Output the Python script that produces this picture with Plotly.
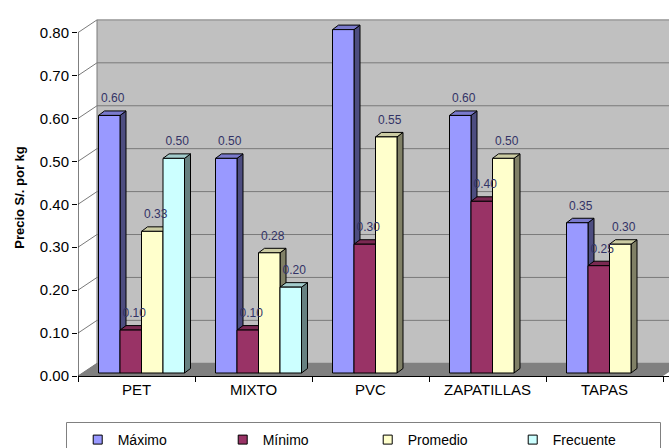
import plotly.graph_objects as go

# ---- data -------------------------------------------------------------
categories = ["PET", "MIXTO", "PVC", "ZAPATILLAS", "TAPAS"]
series_names = ["Máximo", "Mínimo", "Promedio", "Frecuente"]
maximo = [0.60, 0.50, 0.80, 0.60, 0.35]
minimo = [0.10, 0.10, 0.30, 0.40, 0.25]
promedio = [0.33, 0.28, 0.55, 0.50, 0.30]
frecuente = [0.50, 0.20, None, None, None]
y_ticks = [0.0, 0.1, 0.2, 0.3, 0.4, 0.5, 0.6, 0.7, 0.8]

series_values = [maximo, minimo, promedio, frecuente]
front_colors = ["#9999FF", "#993366", "#FFFFCC", "#CCFFFF"]
side_colors = ["#4D4D80", "#4D1A33", "#808066", "#668080"]
top_colors = ["#7A7ACC", "#7A2952", "#CCCCA3", "#A3CCCC"]

FONT = "Arial, Liberation Sans, sans-serif"

# ---- geometry of the oblique 3-D frame (pixels) ------------------------
W, H = 669, 448
L, R, T, B = 78, 669, 19, 376          # plot area in page pixels
PX_CAT = 117.0                          # pixels per category slot
PX_UNIT = 429.25                        # pixels per 1.00 S/.
BAR_SHIFT = (5.0, 3.0)                  # bar plane vs. front plane (right, up)
BACK_SHIFT = (19.0, 12.7)               # back wall vs. front plane (right, up)
BAR_DEPTH = (6.0, 4.5)                  # visible depth of each column
BAR_PX = 21.5                           # column width in pixels

ux, uy = 1 / PX_CAT, 1 / PX_UNIT
bar_w = BAR_PX * ux
ddx, ddy = BAR_DEPTH[0] * ux, BAR_DEPTH[1] * uy

# front plane axes: slot i centred at i, value 0 on the bottom edge
front_x_range = [-0.5, -0.5 + (R - L) * ux]
front_y_range = [0.0, (B - T) * uy]
# bar plane axes: same scales, shifted
bar_x_range = [front_x_range[0] - BAR_SHIFT[0] * ux, front_x_range[1] - BAR_SHIFT[0] * ux]
bar_y_range = [-BAR_SHIFT[1] * uy, front_y_range[1] - BAR_SHIFT[1] * uy]


def front(fx, fy):
    return fx - BAR_SHIFT[0] * ux, fy - BAR_SHIFT[1] * uy


def back(fx, fy):
    return (fx + (BACK_SHIFT[0] - BAR_SHIFT[0]) * ux,
            fy + (BACK_SHIFT[1] - BAR_SHIFT[1]) * uy)


def path(points):
    return "M " + " L ".join(f"{x:.5f},{y:.5f}" for x, y in points) + " Z"


def px_x(p):
    return (p - L) / (R - L)


def px_y(p):
    return (B - p) / (B - T)


x_lo, x_hi = -0.5, len(categories) - 0.5
y_top = y_ticks[-1]
shapes = []

# back wall
shapes.append(dict(type="path", xref="x", yref="y", layer="below",
                   path=path([back(x_lo, 0), back(x_hi + 0.2, 0),
                              back(x_hi + 0.2, y_top), back(x_lo, y_top)]),
                   fillcolor="#C0C0C0", line=dict(width=0)))
# side wall
shapes.append(dict(type="path", xref="x", yref="y", layer="below",
                   path=path([front(x_lo, 0), front(x_lo, y_top),
                              back(x_lo, y_top), back(x_lo, 0)]),
                   fillcolor="#FFFFFF", line=dict(width=0)))
# floor
shapes.append(dict(type="path", xref="x", yref="y", layer="below",
                   path=path([front(x_lo, 0), front(x_hi, 0),
                              back(x_hi, 0), back(x_lo, 0)]),
                   fillcolor="#808080", line=dict(width=0)))

# gridlines on the walls
grid_color = "#7A7A7A"
for t in y_ticks:
    fx0, fy0 = front(x_lo, t)
    bx0, by0 = back(x_lo, t)
    bx1, by1 = back(x_hi + 0.2, t)
    shapes.append(dict(type="line", xref="x", yref="y", layer="below",
                       x0=fx0, y0=fy0, x1=bx0, y1=by0,
                       line=dict(color=grid_color, width=1)))
    shapes.append(dict(type="line", xref="x", yref="y", layer="below",
                       x0=bx0, y0=by0, x1=bx1, y1=by1,
                       line=dict(color=grid_color, width=1)))
# left edge of the back wall
bx, by0 = back(x_lo, 0)
_, by1 = back(x_lo, y_top)
shapes.append(dict(type="line", xref="x", yref="y", layer="below",
                   x0=bx, y0=by0, x1=bx, y1=by1,
                   line=dict(color=grid_color, width=1)))

# column positions within each group
n_series = len(series_values)
offsets = [(k - (n_series - 1) / 2) * bar_w for k in range(n_series)]

# side and top faces, drawn left to right inside each group
for i in range(len(categories)):
    for k, vals in enumerate(series_values):
        v = vals[i]
        if v is None:
            continue
        c = i + offsets[k]
        x0, x1 = c - bar_w / 2, c + bar_w / 2
        shapes.append(dict(type="path", xref="x", yref="y", layer="below",
                           path=path([(x1, 0), (x1 + ddx, ddy),
                                      (x1 + ddx, v + ddy), (x1, v)]),
                           fillcolor=side_colors[k], line=dict(color="black", width=1)))
        shapes.append(dict(type="path", xref="x", yref="y", layer="below",
                           path=path([(x0, v), (x1, v),
                                      (x1 + ddx, v + ddy), (x0 + ddx, v + ddy)]),
                           fillcolor=top_colors[k], line=dict(color="black", width=1)))

# front vertical axis line
ax_x, ax_y0 = front(x_lo, 0)
_, ax_y1 = front(x_lo, y_top)
shapes.append(dict(type="line", xref="x", yref="y", layer="above",
                   x0=ax_x, y0=ax_y0, x1=ax_x, y1=ax_y1,
                   line=dict(color="black", width=1)))

# legend frame
shapes.append(dict(type="rect", xref="paper", yref="paper", layer="above",
                   x0=px_x(66.5), x1=px_x(660.5), y0=px_y(460), y1=px_y(422.5),
                   line=dict(color="#808080", width=1), fillcolor="rgba(0,0,0,0)"))

fig = go.Figure()

# columns
for k, (name, vals) in enumerate(zip(series_names, series_values)):
    xs = [i + offsets[k] for i in range(len(categories))]
    fig.add_trace(go.Bar(
        x=xs, y=vals, width=bar_w, name=name, showlegend=False,
        marker=dict(color=front_colors[k], line=dict(color="black", width=1)),
        xaxis="x", yaxis="y", hoverinfo="skip"))

# value labels
for k, vals in enumerate(series_values):
    xs, ys, txt = [], [], []
    for i, v in enumerate(vals):
        if v is None:
            continue
        xs.append(i + offsets[k] + 3.5 * ux)
        ys.append(v + 16 * uy)
        txt.append(f"{v:.2f}")
    fig.add_trace(go.Scatter(
        x=xs, y=ys, text=txt, mode="text", showlegend=False, cliponaxis=False,
        textfont=dict(family=FONT, size=12, color="#333366"),
        xaxis="x", yaxis="y", hoverinfo="skip"))

# legend entries
for k, name in enumerate(series_names):
    fig.add_trace(go.Scatter(
        x=[None], y=[None], mode="markers", name=name,
        marker=dict(symbol="square", size=9, color=front_colors[k],
                    line=dict(color="black", width=1)),
        xaxis="x", yaxis="y"))

# carrier for the front category axis
fig.add_trace(go.Scatter(
    x=categories, y=[0] * len(categories), mode="markers", showlegend=False,
    marker=dict(opacity=0), xaxis="x2", yaxis="y2", hoverinfo="skip"))

fig.update_layout(
    width=W, height=H,
    margin=dict(l=L, r=W - R, t=T, b=H - B, autoexpand=False),
    paper_bgcolor="white", plot_bgcolor="rgba(0,0,0,0)",
    barmode="overlay",
    font=dict(family=FONT, color="black"),
    shapes=shapes,
    xaxis=dict(range=bar_x_range, showgrid=False, zeroline=False,
               showticklabels=False, ticks="", showline=False, fixedrange=True),
    yaxis=dict(range=bar_y_range, showgrid=False, zeroline=False,
               showticklabels=False, ticks="", showline=False, fixedrange=True),
    xaxis2=dict(type="category", overlaying="x", anchor="y2", side="bottom",
                categoryorder="array", categoryarray=categories,
                range=front_x_range, showgrid=False, zeroline=False,
                showline=True, linecolor="black", linewidth=1,
                ticks="outside", tickson="boundaries", ticklen=5, tickcolor="black",
                tickfont=dict(family=FONT, size=15, color="black")),
    yaxis2=dict(overlaying="y", anchor="x2", side="left",
                range=front_y_range, showgrid=False, zeroline=False, showline=False,
                tickmode="array", tickvals=y_ticks,
                ticktext=[f"{t:.2f}" for t in y_ticks],
                ticks="outside", ticklen=5, tickcolor="black",
                tickfont=dict(family=FONT, size=15, color="black"),
                title=dict(text="<b>Precio S/. por kg</b>", standoff=12,
                           font=dict(family=FONT, size=13, color="black"))),
    legend=dict(orientation="h", x=-0.0005, xanchor="left",
                y=px_y(424), yanchor="top",
                entrywidth=100, entrywidthmode="pixels",
                borderwidth=0, bgcolor="rgba(0,0,0,0)",
                font=dict(family=FONT, size=14, color="black")),
)

fig.write_html("out.html")
